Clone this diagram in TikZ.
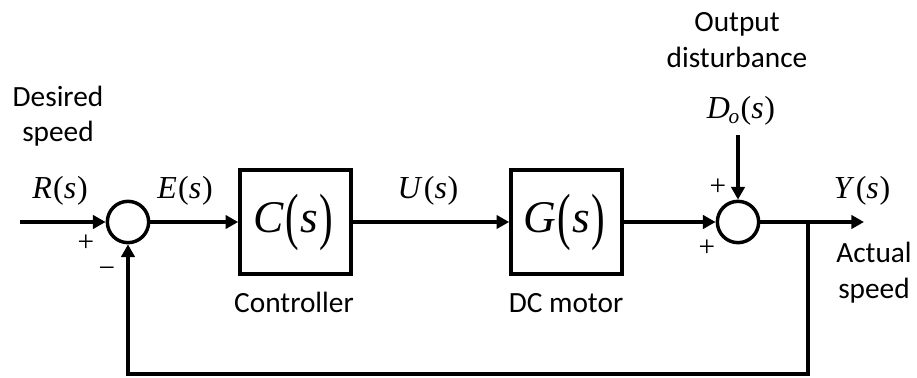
\documentclass[tikz,border=0pt]{standalone}
\usepackage{fontspec}
\usepackage{graphicx}
\setmainfont{Liberation Serif}
\newfontfamily\labelfont{Carlito}
\usetikzlibrary{arrows.meta}
\tikzset{
  sig/.style={line width=3pt, -{Triangle[length=9.5pt,width=10pt]}},
  wire/.style={line width=3pt},
  block/.style={draw, line width=3pt, minimum width=83pt, minimum height=78pt, inner sep=0pt,
    font=\fontsize{34}{38}\selectfont},
  sumnode/.style={draw, circle, line width=2.6pt, minimum size=31pt, inner sep=0pt},
  % two-line captions are placed by the baseline of their last line
  caption/.style={font=\labelfont\fontsize{22}{27}\selectfont, align=center, inner sep=0pt, anchor=base},
  sig label/.style={font=\fontsize{24}{28}\selectfont, inner sep=0pt, anchor=base},
  sign/.style={font=\fontsize{22}{26}\selectfont, inner sep=0pt}
}
% tall parentheses of a transfer function
\newcommand{\tallpar}[1]{\raisebox{-0.09em}{\scalebox{0.9}[1.38]{#1}}}
% a signal name with spaced parentheses
\newcommand{\tf}[2]{\textit{#1}\kern1pt(\textit{#2}\kern0.5pt)}
\begin{document}
\begin{tikzpicture}[x=0.75pt, y=-0.75pt]
\useasboundingbox (0,0) rectangle (917,378);

% blocks and summing junctions
\node[sumnode] (s1) at (128,222) {};
\node[block] (C) at (295.5,222) {\kern-3pt\textit{C}\kern1pt\tallpar{(}\kern1pt\textit{s}\kern1pt\tallpar{)}};
\node[block] (G) at (566.5,222) {\kern-3pt\textit{G}\kern1pt\tallpar{(}\kern1pt\textit{s}\kern1pt\tallpar{)}};
\node[sumnode] (s2) at (738,222) {};

% free ends and corners
\coordinate (in) at (20,222);
\coordinate (dist) at (738,135);
\coordinate (branch) at (808,222);
\coordinate (out) at (864,222);
\coordinate (fbR) at (808,374);
\coordinate (fbL) at (128,374);

% signal paths
\draw[sig] (in) -- (s1.west);
\draw[sig] (s1.east) -- (C.west);
\draw[sig] (C.east) -- (G.west);
\draw[sig] (G.east) -- (s2.west);
\draw[sig] (dist) -- (s2.north);
\draw[wire] (s2.east) -- (branch);
\draw[sig] (branch) -- (out);
\draw[sig, line join=miter] (branch) -- (fbR) -- (fbL) -- (s1.south);

% signal names
\node[sig label] (R) at (60,198) {\tf{R}{s}};
\node[sig label] (E) at (185,198) {\tf{E}{s}};
\node[sig label] (U) at (428,198) {\tf{U}{s}};
\node[sig label] (D) at (741,118) {\textit{D}\kern-1pt\raisebox{-0.35ex}{\fontsize{16}{18}\selectfont\textit{o}}\kern1pt(\textit{s}\kern0.5pt)};
\node[sig label] (Y) at (862,198) {\tf{Y}{s}};

% signs at the junctions
\node[sign] (p1) at (86,243) {+};
\node[sign] (m1) at (107,272) {\char"2212};
\node[sign] (p2) at (718,187) {+};
\node[sign] (p3) at (707,248) {+};

% captions
\node[caption] (desired) at (58,142) {Desired\\speed};
\node[caption] (ctrl) at (294,312) {Controller};
\node[caption] (motor) at (566,312) {DC motor};
\node[caption] (odist) at (737,68) {Output\\disturbance};
\node[caption] (actual) at (874,298) {Actual\\speed};
\end{tikzpicture}
\end{document}
